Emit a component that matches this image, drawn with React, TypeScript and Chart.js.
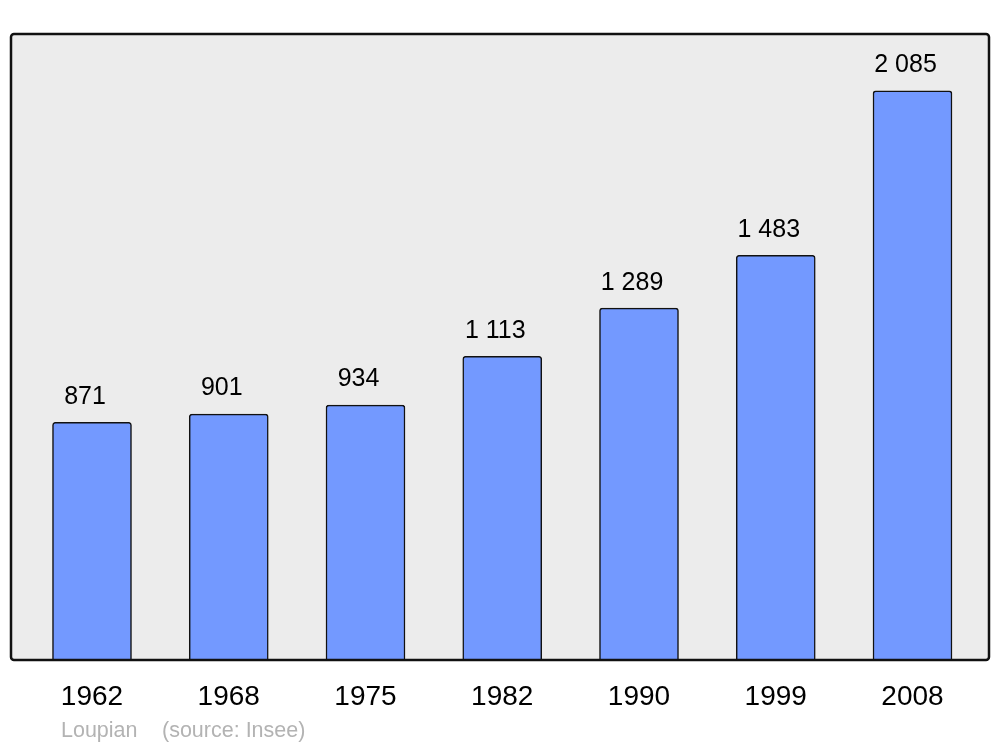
import React, { useEffect, useRef } from "react";
import { Chart, registerables } from "chart.js";

Chart.register(...registerables);

const years = ["1962", "1968", "1975", "1982", "1990", "1999", "2008"];
const population = [871, 901, 934, 1113, 1289, 1483, 2085];
const footerLeft = "Loupian";
const footerRight = "(source: Insee)";

const FONT = "'Liberation Sans', Arial, sans-serif";

function fmt(n: number): string {
  return String(n).replace(/\B(?=(\d{3})+(?!\d))/g, " ");
}

const boxPlugin = {
  id: "boxPlugin",
  beforeDatasetsDraw(chart: any) {
    const { ctx, chartArea } = chart;
    const { left, top, right, bottom } = chartArea;
    ctx.save();
    ctx.beginPath();
    ctx.roundRect(left, top, right - left, bottom - top, 3);
    ctx.fillStyle = "#ececec";
    ctx.fill();
    ctx.restore();
  },
  afterDatasetsDraw(chart: any) {
    const { ctx, chartArea } = chart;
    const { left, top, right, bottom } = chartArea;
    ctx.save();
    ctx.beginPath();
    ctx.roundRect(left, top, right - left, bottom - top, 3);
    ctx.strokeStyle = "#111111";
    ctx.lineWidth = 2.5;
    ctx.stroke();

    // value labels
    const meta = chart.getDatasetMeta(0);
    ctx.fillStyle = "#000000";
    ctx.font = `25px ${FONT}`;
    ctx.textAlign = "center";
    ctx.textBaseline = "middle";
    meta.data.forEach((bar: any, i: number) => {
      ctx.fillText(fmt(population[i]), bar.x - 7, bar.y - 25.5);
    });

    // footer
    ctx.fillStyle = "#b3b3b3";
    ctx.font = `21.5px ${FONT}`;
    ctx.textAlign = "left";
    ctx.textBaseline = "middle";
    ctx.fillText(footerLeft, 61, 731.5);
    ctx.fillText(footerRight, 162, 731.5);
    ctx.restore();
  },
};

export default function App() {
  const ref = useRef<HTMLCanvasElement | null>(null);

  useEffect(() => {
    if (!ref.current) return;
    const chart = new Chart(ref.current, {
      type: "bar",
      data: {
        datasets: [
          {
            data: population.map((v, i) => ({ x: i, y: v })),
            backgroundColor: "#7399ff",
            borderColor: "#111111",
            borderWidth: 1.5,
            borderRadius: { topLeft: 3, topRight: 3, bottomLeft: 0, bottomRight: 0 },
            borderSkipped: "bottom",
            barThickness: 79,
          },
        ],
      },
      options: {
        animation: false,
        responsive: false,
        maintainAspectRatio: false,
        layout: { padding: { left: 11, right: 11, top: 34, bottom: 0 } },
        plugins: {
          legend: { display: false },
          tooltip: { enabled: false },
          title: { display: false },
        },
        scales: {
          x: {
            type: "linear",
            offset: false,
            min: -0.5923,
            max: 6.5594,
            grid: { display: false, offset: false },
            border: { display: false },
            afterBuildTicks(scale: any) {
              scale.ticks = years.map((_, i) => ({ value: i }));
            },
            afterFit(scale: any) {
              scale.height = 87;
            },
            ticks: {
              padding: 12,
              color: "#000000",
              font: { family: FONT, size: 28 },
              maxRotation: 0,
              autoSkip: false,
              callback: (v: any) => years[Number(v)] ?? "",
            },
          },
          y: {
            display: false,
            min: 0,
            max: 2293.5,
          },
        },
      },
      plugins: [boxPlugin],
    });
    return () => chart.destroy();
  }, []);

  return (
    <div style={{ position: "fixed", left: 0, top: 0, width: 1000, height: 747, background: "#ffffff" }}>
      <canvas ref={ref} width={1000} height={747} style={{ display: "block", width: 1000, height: 747 }} />
    </div>
  );
}
